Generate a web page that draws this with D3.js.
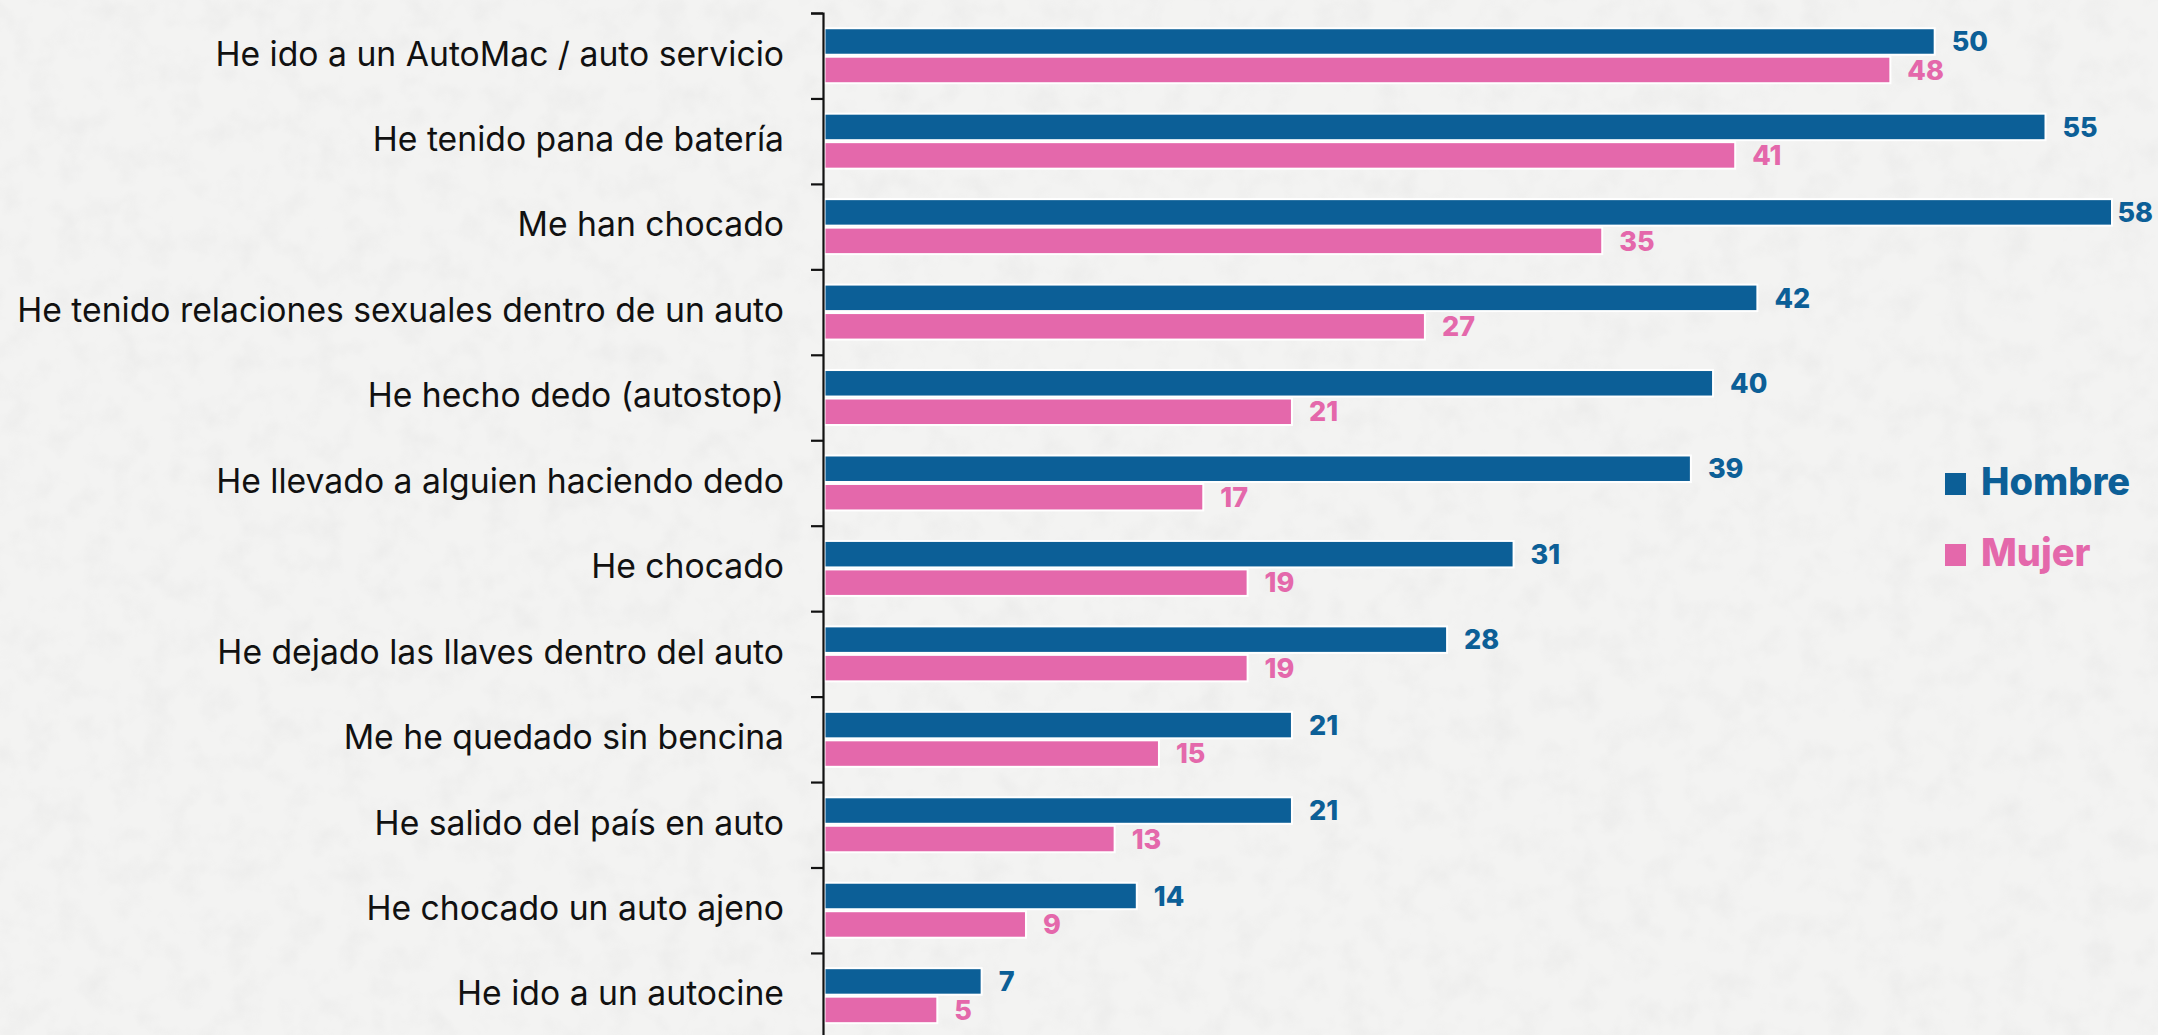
<!DOCTYPE html>
<html>
<head>
<meta charset="utf-8">
<script src="https://cdn.jsdelivr.net/npm/d3@7"></script>
<style>
  html, body { margin: 0; padding: 0; background: #f2f2f1; }
  svg { display: block; }
</style>
</head>
<body>
<div id="chart"></div>
<script>
// data
const categories = [
  "He ido a un AutoMac / auto servicio",
  "He tenido pana de batería",
  "Me han chocado",
  "He tenido relaciones sexuales dentro de un auto",
  "He hecho dedo (autostop)",
  "He llevado a alguien haciendo dedo",
  "He chocado",
  "He dejado las llaves dentro del auto",
  "Me he quedado sin bencina",
  "He salido del país en auto",
  "He chocado un auto ajeno",
  "He ido a un autocine"
];
const hombre = [50, 55, 58, 42, 40, 39, 31, 28, 21, 21, 14, 7];
const mujer  = [48, 41, 35, 27, 21, 17, 19, 19, 15, 13, 9, 5];
const seriesNames = ["Hombre", "Mujer"];
const seriesColors = ["#0c5f97", "#e468ab"];

const width = 2158, height = 1035;
const margin = {top: 13, left: 825.5, right: 47};
const step = 85.45;
const fontFamily = "Inter, 'Open Sans', sans-serif";

const rows = categories.map((c, i) => ({cat: c, values: [hombre[i], mujer[i]]}));

const svg = d3.select("#chart").append("svg")
  .attr("width", width)
  .attr("height", height);

// paper-like background
const defs = svg.append("defs");
const paper = defs.append("filter").attr("id", "paper")
  .attr("x", 0).attr("y", 0).attr("width", "100%").attr("height", "100%");
paper.append("feTurbulence")
  .attr("type", "fractalNoise")
  .attr("baseFrequency", 0.035)
  .attr("numOctaves", 3)
  .attr("seed", 7);
paper.append("feColorMatrix")
  .attr("type", "matrix")
  .attr("values", "0 0 0 0 0.5  0 0 0 0 0.5  0 0 0 0 0.5  0 0 0 -1.8 1.0");

svg.append("rect").attr("width", width).attr("height", height).attr("fill", "#f3f3f2");
svg.append("rect").attr("width", width).attr("height", height)
  .attr("filter", "url(#paper)").attr("opacity", 0.12);

// scales
const y = d3.scaleBand()
  .domain(categories)
  .range([margin.top, margin.top + step * categories.length])
  .padding(0);

const ySub = d3.scaleBand()
  .domain(seriesNames)
  .range([0, y.bandwidth()])
  .paddingInner(0.14)
  .paddingOuter(0.57);

const x = d3.scaleLinear()
  .domain([0, d3.max(hombre.concat(mujer))])
  .range([margin.left, width - margin.right]);

// category labels
const labels = svg.append("g")
  .selectAll("text")
  .data(categories)
  .join("text")
  .attr("x", 784)
  .attr("y", d => y(d) + y.bandwidth() / 2 - 2)
  .attr("dy", "0.35em")
  .attr("text-anchor", "end")
  .style("font-family", fontFamily)
  .style("font-weight", 400)
  .style("font-size", "28px")
  .style("fill", "#111")
  .text(d => d);

// fit the longest label to the width seen in the reference
const longest = d3.max(labels.nodes(), n => n.getComputedTextLength());
labels.style("font-size", (28 * 767 / longest) + "px");

// bars
const group = svg.append("g")
  .selectAll("g")
  .data(rows)
  .join("g")
  .attr("transform", d => `translate(0,${y(d.cat)})`);

group.selectAll("rect")
  .data(d => d.values.map((v, i) => ({key: seriesNames[i], value: v, i: i})))
  .join("rect")
  .attr("x", x(0))
  .attr("y", d => ySub(d.key))
  .attr("width", d => x(d.value) - x(0))
  .attr("height", ySub.bandwidth())
  .attr("fill", d => seriesColors[d.i])
  .attr("stroke", "#ffffff")
  .attr("stroke-width", 4)
  .style("paint-order", "stroke");

// value labels
group.selectAll("text")
  .data(d => d.values.map((v, i) => ({key: seriesNames[i], value: v, i: i})))
  .join("text")
  .attr("y", d => ySub(d.key) + ySub.bandwidth() / 2)
  .attr("dy", "0.36em")
  .style("font-family", fontFamily)
  .style("font-weight", 800)
  .style("font-size", "27px")
  .style("fill", d => seriesColors[d.i])
  .text(d => d.value)
  .attr("x", function(d) {
    const w = this.getComputedTextLength();
    return Math.min(x(d.value) + 18, width - 5 - w);
  });

// axis: ticks sit on the band boundaries, drawn over the bar outlines
const yEdges = d3.scaleLinear()
  .domain([0, categories.length])
  .range(y.range());

svg.append("g")
  .attr("transform", `translate(${margin.left - 2.5},0)`)
  .call(d3.axisLeft(yEdges)
    .tickValues(d3.range(0, categories.length + 1))
    .tickSize(12)
    .tickSizeOuter(12)
    .tickFormat(""))
  .call(g => g.selectAll("path, line").attr("stroke", "#111").attr("stroke-width", 2.2));

// legend
const legend = svg.append("g")
  .attr("transform", "translate(1945,473)")
  .selectAll("g")
  .data(seriesNames)
  .join("g")
  .attr("transform", (d, i) => `translate(0,${i * 71})`);

legend.append("rect")
  .attr("width", 21)
  .attr("height", 22)
  .attr("fill", (d, i) => seriesColors[i]);

legend.append("text")
  .attr("x", 36)
  .attr("y", 22)
  .style("font-family", fontFamily)
  .style("font-weight", 800)
  .style("font-size", "38px")
  .style("fill", (d, i) => seriesColors[i])
  .text(d => d);
</script>
</body>
</html>
